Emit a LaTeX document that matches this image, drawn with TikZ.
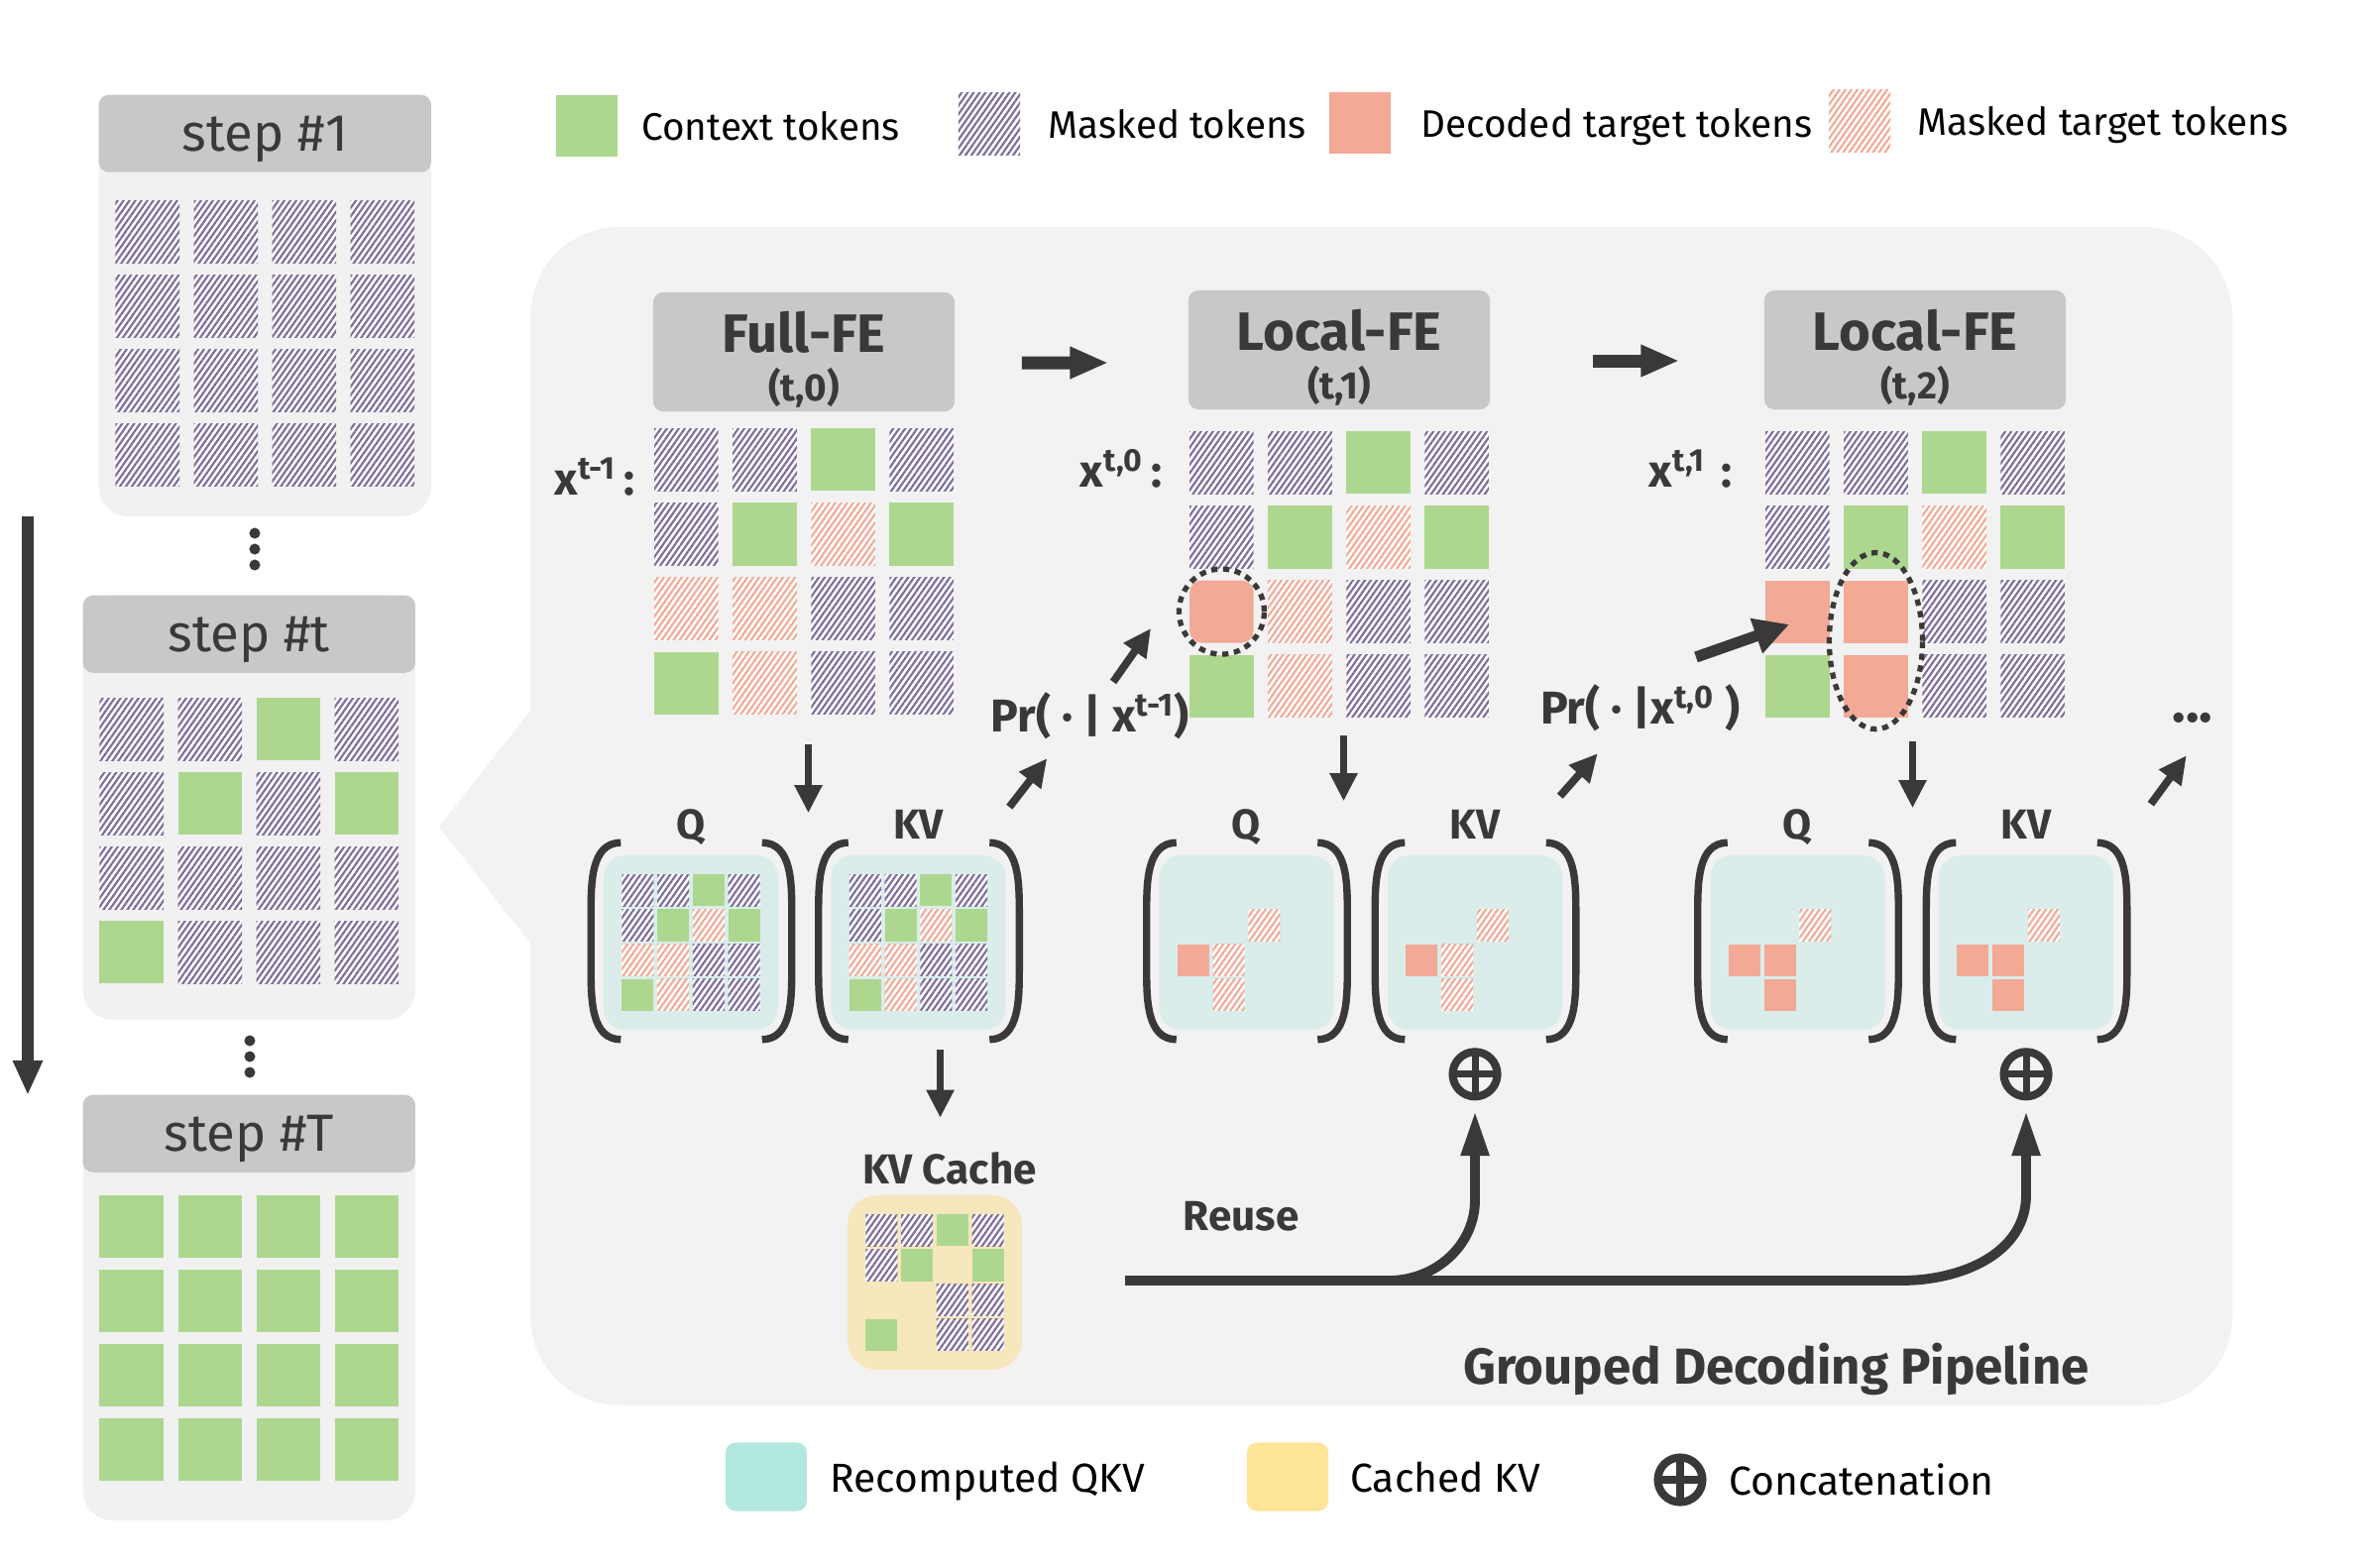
\documentclass[tikz,border=0pt]{standalone}
\usepackage{fontspec}
\setmainfont{Fira Sans}
\usetikzlibrary{matrix,positioning,calc,arrows.meta,patterns.meta,shapes.geometric}

\definecolor{ctxgreen}{HTML}{ADD78F}
\definecolor{decpink}{HTML}{F2A996}
\definecolor{mskpurple}{HTML}{7B6B9C}
\definecolor{headgray}{HTML}{C8C8C8}
\definecolor{stepbg}{HTML}{F1F1F1}
\definecolor{panelbg}{HTML}{F2F2F2}
\definecolor{inkdark}{HTML}{3A3937}
\definecolor{qkvteal}{HTML}{DAEDEA}
\definecolor{qkvlegend}{HTML}{B3E8E0}
\definecolor{cacheyellow}{HTML}{F6E7BC}
\definecolor{cachelegend}{HTML}{FFE597}

\tikzset{
  tok/.style={minimum width=0.645cm, minimum height=0.63cm, inner sep=0pt, outer sep=0pt},
  minitok/.style={minimum width=0.32cm, minimum height=0.32cm, inner sep=0pt, outer sep=0pt},
  ctx/.style={fill=ctxgreen},
  dec/.style={fill=decpink},
  decr/.style={fill=decpink, rounded corners=0.12cm},
  msk/.style={preaction={fill=white}, pattern={Lines[angle=55,distance=1.4pt,line width=0.6pt]}, pattern color=mskpurple},
  tgt/.style={preaction={fill=white}, pattern={Lines[angle=55,distance=1.4pt,line width=0.6pt]}, pattern color=decpink},
  tokgrid/.style={matrix of nodes, nodes in empty cells, inner sep=0pt,
    column sep=0.145cm, row sep=0.12cm, nodes={tok}},
  minigrid/.style={matrix of nodes, nodes in empty cells, inner sep=0pt,
    column sep=0.037cm, row sep=0.03cm, nodes={minitok}},
  stepbody/.style={fill=stepbg, rounded corners=0.3cm, minimum width=3.35cm, inner sep=0pt},
  stephead/.style={fill=headgray, rounded corners=0.1cm, minimum width=3.35cm, minimum height=0.78cm,
    inner sep=0pt, text depth=0pt, text=inkdark, font=\fontsize{15}{16}\selectfont},
  fehead/.style={fill=headgray, rounded corners=0.1cm, minimum width=3.04cm, minimum height=1.2cm,
    inner sep=0pt, align=center, text=inkdark, font=\fontsize{15.5}{15.5}\selectfont\bfseries},
  qkvbox/.style={fill=qkvteal, rounded corners=0.22cm, minimum width=1.76cm, minimum height=1.76cm, inner sep=0pt},
  cachebox/.style={fill=cacheyellow, rounded corners=0.3cm, minimum width=1.76cm, minimum height=1.76cm, inner sep=0pt},
  brak/.style={draw=inkdark, line width=2.1pt},
  qlbl/.style={inner sep=0pt, text=inkdark, font=\fontsize{12}{14}\selectfont\bfseries},
  qkvlbl/.style={qlbl, text depth=0pt},
  prlbl/.style={inner sep=0pt, text=inkdark, font=\fontsize{13.2}{14}\selectfont\bfseries},
  xlbl/.style={inner sep=0pt, text=inkdark, font=\fontsize{13}{14}\selectfont\bfseries},
  swatch/.style={minimum width=0.62cm, minimum height=0.62cm, inner sep=0pt},
  bswatch/.style={minimum width=0.82cm, minimum height=0.69cm, inner sep=0pt, rounded corners=0.1cm},
  legtxt/.style={inner sep=0pt, anchor=west, text depth=0pt, text=black, font=\fontsize{11}{13}\selectfont},
  blegtxt/.style={legtxt, font=\fontsize{11.6}{13}\selectfont},
  dotring/.style={draw=inkdark, line width=1.5pt, dash pattern=on 1.8pt off 1.6pt, inner sep=0pt},
  darr/.style={draw=inkdark, line width=2.2pt, -{Triangle[length=8pt,width=7.5pt]}},
  tarr/.style={draw=inkdark, line width=3.2pt, -{Triangle[length=10pt,width=10pt]}},
  bigarr/.style={draw=inkdark, line width=3.7pt, -{Triangle[length=11pt,width=8.5pt]}},
  timearr/.style={draw=inkdark, line width=3.4pt, -{Triangle[length=10pt,width=8pt]}},
  reusearr/.style={draw=inkdark, line width=2.8pt, -{Triangle[length=13pt,width=7.5pt]}},
  oplus/.style={circle, draw=inkdark, line width=2.3pt, minimum size=0.45cm, inner sep=0pt,
    path picture={\draw[inkdark, line width=2pt]
      (path picture bounding box.north) -- (path picture bounding box.south)
      (path picture bounding box.west) -- (path picture bounding box.east);}},
}

% round brackets round a Q / KV box
\newcommand\qkvbrackets[1]{%
  \draw[brak] ([shift={(0.18cm,0.12cm)}]#1.north west) to[out=180,in=90]
    ([shift={(-0.12cm,-0.6cm)}]#1.north west) -- ([shift={(-0.12cm,0.6cm)}]#1.south west)
    to[out=-90,in=180] ([shift={(0.18cm,-0.09cm)}]#1.south west);
  \draw[brak] ([shift={(-0.17cm,0.12cm)}]#1.north east) to[out=0,in=90]
    ([shift={(0.13cm,-0.6cm)}]#1.north east) -- ([shift={(0.13cm,0.6cm)}]#1.south east)
    to[out=-90,in=0] ([shift={(-0.17cm,-0.09cm)}]#1.south east);
}

\begin{document}
\begin{tikzpicture}[x=0.01cm, y=-0.01cm]
\path[use as bounding box, fill=white] (0,0) rectangle (2396,1582);

% legend on top
\node[swatch, fill=ctxgreen] (lgc) at (592,127) {};
\node[legtxt, right=0.23cm of lgc] (lgct) {Context tokens};
\node[swatch, msk] (lgm) at (998,125) {};
\node[legtxt, right=0.27cm of lgm] (lgmt) {Masked tokens};
\node[swatch, dec] (lgd) at (1372,124) {};
\node[legtxt, right=0.29cm of lgd] (lgdt) {Decoded target tokens};
\node[swatch, tgt] (lgt) at (1876,122) {};
\node[legtxt, right=0.26cm of lgt] (lgtt) {Masked target tokens};

% steps on the left
\node[stepbody, minimum height=4.25cm, anchor=north west] (s1body) at (99,95) {};
\node[stephead, anchor=north] (s1) at (s1body.north) {step \#1};
\matrix (s1g) [tokgrid, nodes={msk}, below=0.27cm of s1] {
  & & & \\
  & & & \\
  & & & \\
  & & & \\
};
\foreach \y in {538,554,570} \fill[inkdark] (257,\y) circle (0.055cm);

\node[stepbody, minimum height=4.28cm, anchor=north west] (stbody) at (83,600) {};
\node[stephead, anchor=north] (st) at (stbody.north) {step \#t};
\matrix (stg) [tokgrid, below=0.24cm of st] {
  |[msk]| & |[msk]| & |[ctx]| & |[msk]| \\
  |[msk]| & |[ctx]| & |[msk]| & |[ctx]| \\
  |[msk]| & |[msk]| & |[msk]| & |[msk]| \\
  |[ctx]| & |[msk]| & |[msk]| & |[msk]| \\
};
\foreach \y in {1050,1066,1082} \fill[inkdark] (252,\y) circle (0.055cm);

\node[stepbody, minimum height=4.29cm, anchor=north west] (sTbody) at (83,1104) {};
\node[stephead, anchor=north] (sT) at (sTbody.north) {step \#T};
\matrix (sTg) [tokgrid, nodes={ctx}, below=0.22cm of sT] {
  & & & \\
  & & & \\
  & & & \\
  & & & \\
};

\coordinate (tt) at (28,521);
\coordinate (tb) at (28,1105);
\draw[timearr] (tt) -- (tb);

% pipeline panel
\fill[panelbg, rounded corners=0.9cm] (535,229) rectangle (2252,1418);
\fill[panelbg] (536,716) -- (443,834) -- (536,953) -- cycle;

\node[fehead] (fe0) at (811,355) {\rule{0pt}{16pt}Full-FE\\[-1.5pt]{\fontsize{11}{11}\selectfont (t,0)}};
\node[fehead] (fe1) at (1351,353) {\rule{0pt}{16pt}Local-FE\\[-1.5pt]{\fontsize{11}{11}\selectfont (t,1)}};
\node[fehead] (fe2) at (1932,353) {\rule{0pt}{16pt}Local-FE\\[-1.5pt]{\fontsize{11}{11}\selectfont (t,2)}};
\draw[bigarr] ([shift={(0.67cm,-0.11cm)}]fe0.east) -- ([shift={(-0.8cm,-0.13cm)}]fe1.west);
\draw[bigarr] ([shift={(1.03cm,-0.11cm)}]fe1.east) -- ([shift={(-0.85cm,-0.11cm)}]fe2.west);

\matrix (g0) [tokgrid, below=0.16cm of fe0] {
  |[msk]| & |[msk]| & |[ctx]| & |[msk]| \\
  |[msk]| & |[ctx]| & |[tgt]| & |[ctx]| \\
  |[tgt]| & |[tgt]| & |[msk]| & |[msk]| \\
  |[ctx]| & |[tgt]| & |[msk]| & |[msk]| \\
};
\matrix (g1) [tokgrid, below=0.21cm of fe1] {
  |[msk]| & |[msk]| & |[ctx]| & |[msk]| \\
  |[msk]| & |[ctx]| & |[tgt]| & |[ctx]| \\
  |[decr]| & |[tgt]| & |[msk]| & |[msk]| \\
  |[ctx]| & |[tgt]| & |[msk]| & |[msk]| \\
};
\matrix (g2) [tokgrid, below=0.21cm of fe2] {
  |[msk]| & |[msk]| & |[ctx]| & |[msk]| \\
  |[msk]| & |[ctx]| & |[tgt]| & |[ctx]| \\
  |[dec]| & |[dec]| & |[msk]| & |[msk]| \\
  |[ctx]| & |[dec]| & |[msk]| & |[msk]| \\
};
\node[xlbl, anchor=base east] (xl0) at (641,499) {x\textsuperscript{t-1}\,:};
\node[xlbl, anchor=base east] (xl1) at (1173,491) {x\textsuperscript{t,0}\,:};
\node[xlbl, anchor=base east] (xl2) at (1748,491) {x\textsuperscript{t,1}\,\,:};

\node[dotring, circle, minimum size=0.86cm] (dc1) at (g1-3-1) {};
\node[dotring, ellipse, minimum width=0.94cm, minimum height=1.78cm] (de2)
  at ($(g2-3-2)!0.5!(g2-4-2)+(0,-8)$) {};

% Q / KV of each stage
\node[qkvbox] (q0box) at (697,951) {};
\matrix (q0) [minigrid] at (q0box) {
  |[msk]| & |[msk]| & |[ctx]| & |[msk]| \\
  |[msk]| & |[ctx]| & |[tgt]| & |[ctx]| \\
  |[tgt]| & |[tgt]| & |[msk]| & |[msk]| \\
  |[ctx]| & |[tgt]| & |[msk]| & |[msk]| \\
};
\node[qkvbox, right=0.52cm of q0box] (kv0box) {};
\matrix (kv0) [minigrid] at (kv0box) {
  |[msk]| & |[msk]| & |[ctx]| & |[msk]| \\
  |[msk]| & |[ctx]| & |[tgt]| & |[ctx]| \\
  |[tgt]| & |[tgt]| & |[msk]| & |[msk]| \\
  |[ctx]| & |[tgt]| & |[msk]| & |[msk]| \\
};
\node[qkvbox] (q1box) at (1257.5,951) {};
\matrix (q1) [minigrid] at (q1box) {
  & & & \\
  & & |[tgt]| & \\
  |[dec]| & |[tgt]| & & \\
  & |[tgt]| & & \\
};
\node[qkvbox, right=0.53cm of q1box] (kv1box) {};
\matrix (kv1) [minigrid] at (kv1box) {
  & & & \\
  & & |[tgt]| & \\
  |[dec]| & |[tgt]| & & \\
  & |[tgt]| & & \\
};
\node[qkvbox] (q2box) at (1813.5,951) {};
\matrix (q2) [minigrid] at (q2box) {
  & & & \\
  & & |[tgt]| & \\
  |[dec]| & |[dec]| & & \\
  & |[dec]| & & \\
};
\node[qkvbox, right=0.53cm of q2box] (kv2box) {};
\matrix (kv2) [minigrid] at (kv2box) {
  & & & \\
  & & |[tgt]| & \\
  |[dec]| & |[dec]| & & \\
  & |[dec]| & & \\
};
\foreach \b in {q0box,kv0box,q1box,kv1box,q2box,kv2box} {\qkvbrackets{\b}}
\node[qkvlbl, above=0.15cm of q0box] (q0l) {Q};
\node[qkvlbl, above=0.15cm of kv0box] (kv0l) {KV};
\node[qkvlbl, above=0.15cm of q1box] (q1l) {Q};
\node[qkvlbl, above=0.15cm of kv1box] (kv1l) {KV};
\node[qkvlbl, above=0.15cm of q2box] (q2l) {Q};
\node[qkvlbl, above=0.15cm of kv2box] (kv2l) {KV};

\draw[darr] ([shift={(0.045cm,-0.3cm)}]g0.south) -- ++(0,69);
\draw[darr] ([shift={(0.045cm,-0.18cm)}]g1.south) -- ++(0,66);
\draw[darr] ([shift={(-0.025cm,-0.24cm)}]g2.south) -- ++(0,67);

% sampling
\node[prlbl] (pr0) at (1100,722) {Pr( · | x\textsuperscript{t-1})};
\node[prlbl] (pr1) at (1655,714) {Pr( · |x\textsuperscript{t,0} )};
\node[qlbl, font=\fontsize{16}{16}\selectfont\bfseries] (more) at (2212,724) {...};
\draw[darr] ([shift={(0.03cm,0.48cm)}]kv0box.north east) -- ++(38,-49);
\draw[darr] ([shift={(0.23cm,0.34cm)}]pr0.center) -- ++(38,-54);
\draw[darr] ([shift={(-0.03cm,0.59cm)}]kv1box.north east) -- ++(38,-43);
\draw[tarr] ([shift={(0.56cm,0.51cm)}]pr1.center) -- ++(94,-33);
\draw[darr] ([shift={(0.37cm,0.51cm)}]kv2box.north east) -- ++(36,-49);

% kv cache and reuse
\draw[darr] ([shift={(0.22cm,-0.19cm)}]kv0box.south) -- ++(0,69);
\node[qlbl] (cachel) at (958,1179) {KV Cache};
\node[cachebox] (cbox) at (943,1294) {};
\matrix (cg) [minigrid] at (cbox) {
  |[msk]| & |[msk]| & |[ctx]| & |[msk]| \\
  |[msk]| & |[ctx]| & & |[ctx]| \\
  & & |[msk]| & |[msk]| \\
  |[ctx]| & & |[msk]| & |[msk]| \\
};
\node[oplus] (c1) at ([yshift=-0.44cm]kv1box.south) {};
\node[oplus] (c2) at ([yshift=-0.44cm]kv2box.south) {};
\coordinate (rs) at (1135,1292);
\node[qlbl] (reuse) at (1252,1227) {Reuse};
\draw[reusearr, shorten >=0.1cm] (rs) -- ($(c2.south |- rs)+(-126,0)$)
  to[out=0,in=-90] ([yshift=-0.95cm]c2.south) -- (c2.south);
\draw[reusearr, shorten >=0.1cm] (rs) -- ($(c1.south |- rs)+(-87,0)$)
  to[out=0,in=-90] ([yshift=-1cm]c1.south) -- (c1.south);

\node[qlbl, font=\fontsize{14.5}{16}\selectfont\bfseries] (title) at (1792,1381) {Grouped Decoding Pipeline};

% legend at the bottom
\node[bswatch, fill=qkvlegend] (lgq) at (773,1490) {};
\node[blegtxt, right=0.22cm of lgq] (lgqt) {Recomputed QKV};
\node[bswatch, fill=cachelegend] (lgk) at (1299,1490) {};
\node[blegtxt, right=0.21cm of lgk] (lgkt) {Cached KV};
\node[oplus] (lgo) at (1695,1493) {};
\node[blegtxt, right=0.22cm of lgo] (lgot) {Concatenation};
\end{tikzpicture}
\end{document}
